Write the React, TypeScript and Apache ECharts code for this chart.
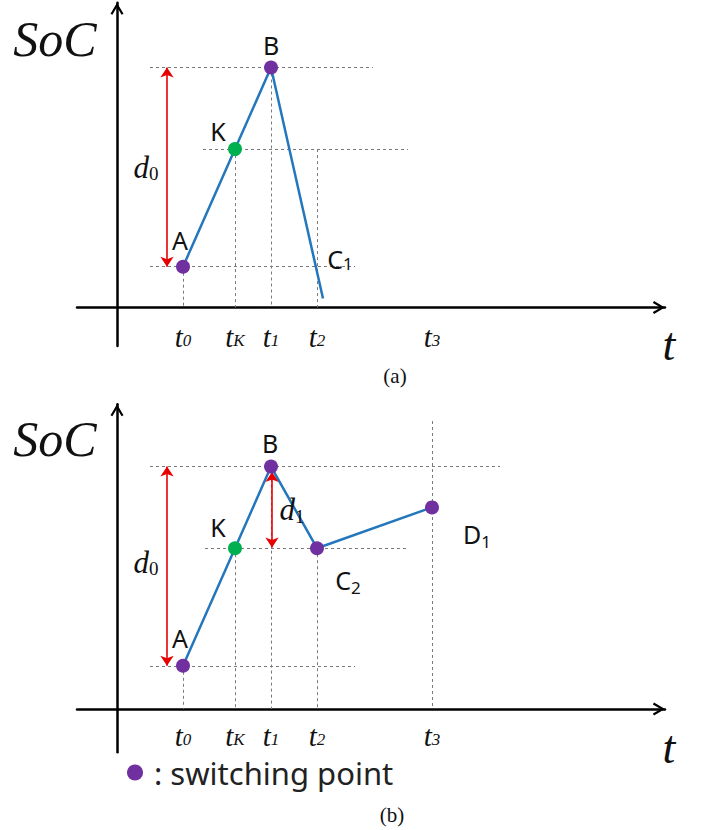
import React, { useEffect, useRef } from 'react';
import * as echarts from 'echarts';

// ---- data ----
// time ticks (t0, tK, t1, t2, t3)
const tickSubs = ['0', 'K', '1', '2', '3'];
const tickTimes = [3.3, 5.9, 7.7, 10.0, 15.75];

// panel (a)
const namesA = ['A', 'K', 'B'];
const timesA = [3.3, 5.9, 7.7];
const socA = [17, 66, 100];
const endA = [10.3, 3.75]; // C1 end of discharge line

// panel (b)
const namesB = ['A', 'K', 'B', 'C2', 'D1'];
const timesB = [3.3, 5.9, 7.7, 10.0, 15.75];
const socB = [18, 67, 101, 67, 84];

// dashed guide segments [x1, y1, x2, y2]
const guidesA = [
  [1.65, 100, 12.8, 100],
  [4.3, 66, 14.55, 66],
  [1.65, 17, 11.9, 17],
  [3.3, 17, 3.3, 0],
  [5.9, 66, 5.9, 0],
  [7.7, 100, 7.7, 0],
  [10.0, 66, 10.0, 0],
];
const guidesB = [
  [1.65, 101, 19.15, 101],
  [4.4, 67, 14.55, 67],
  [1.65, 18, 11.9, 18],
  [3.3, 18, 3.3, 0],
  [5.9, 67, 5.9, 0],
  [7.7, 101, 7.7, 0],
  [10.0, 67, 10.0, 0],
  [15.75, 120, 15.75, 0],
];

// red double arrows [x1, y1, x2, y2]
const arrowsA = [[2.5, 17, 2.5, 100]];
const arrowsB = [
  [2.5, 18, 2.5, 101],
  [7.75, 98.8, 7.75, 67.3],
];
const arrowNamesA = ['0'];
const arrowNamesB = ['0', '1'];

const PURPLE = '#7030A0';
const GREEN = '#00B050';
const BLUE = '#2477BC';
const RED = '#E60000';
const GRAY = '#7a7a7a';

const CHEVRON =
  'path://M6.5,0L6.51,0L6.5,0.01Z M6.5,12.12L13,23.12L11.11,24.24L6.5,16.44L1.89,24.24L0,23.12Z';

const pointLabelOffsetsA: Record<string, number[]> = {
  A: [-3, -27],
  K: [-17, -18],
  B: [0, -23],
};
const pointLabelOffsetsB: Record<string, number[]> = {
  A: [-3, -28],
  K: [-17, -21],
  B: [-1, -24],
  C2: [31, 32],
  D1: [45, 27],
};

function labelText(n: string) {
  if (n.length === 2) return `{m|${n[0]}}{s|${n[1]}}`;
  return `{m|${n}}`;
}

const pointRich = {
  m: { fontFamily: 'Noto Sans', fontSize: 25, lineHeight: 32, color: '#111' },
  m2: { fontFamily: 'Noto Sans', fontSize: 25, lineHeight: 26, color: '#111' },
  s: { fontFamily: 'Noto Sans', fontSize: 17, lineHeight: 17, verticalAlign: 'bottom', color: '#111' },
};

const dRich = {
  d: { fontFamily: 'Liberation Serif', fontStyle: 'italic', fontSize: 31, lineHeight: 32, color: '#111' },
  s: { fontFamily: 'Liberation Serif', fontSize: 19, lineHeight: 19, verticalAlign: 'bottom', color: '#111' },
};

const tickRich = {
  t: { fontFamily: 'Liberation Serif', fontStyle: 'italic', fontSize: 29, lineHeight: 24, color: '#111' },
  s: { fontFamily: 'Liberation Serif', fontStyle: 'italic', fontSize: 17, lineHeight: 10, verticalAlign: 'bottom', color: '#111' },
};

function buildPanel(i: number, names: string[], times: number[], soc: number[], offsets: Record<string, number[]>, guides: number[][], arrows: number[][], arrowNames: string[], extra: any[]) {
  const curve = times.map((t, k) => [t, soc[k]]);
  const series: any[] = [];
  series.push({
    type: 'lines',
    coordinateSystem: 'cartesian2d',
    xAxisIndex: i,
    yAxisIndex: i,
    silent: true,
    z: 1,
    lineStyle: { color: GRAY, width: 1, type: [3, 3], opacity: 1 },
    data: guides.map((g) => ({ coords: [[g[0], g[1]], [g[2], g[3]]] })),
  });
  series.push({
    type: 'line',
    xAxisIndex: i,
    yAxisIndex: i,
    silent: true,
    z: 2,
    showSymbol: false,
    symbol: 'none',
    lineStyle: { color: BLUE, width: 2.5 },
    data: curve.concat(extra),
  });
  series.push({
    type: 'lines',
    coordinateSystem: 'cartesian2d',
    xAxisIndex: i,
    yAxisIndex: i,
    silent: true,
    z: 3,
    symbol: ['arrow', 'arrow'],
    symbolSize: 10,
    lineStyle: { color: RED, width: 1.6, opacity: 1 },
    data: arrows.map((a) => ({ coords: [[a[0], a[1]], [a[2], a[3]]] })),
  });
  series.push({
    type: 'scatter',
    name: 'switching point',
    xAxisIndex: i,
    yAxisIndex: i,
    z: 4,
    symbol: 'circle',
    symbolSize: 14,
    itemStyle: { color: PURPLE, opacity: 1 },
    label: { show: true, position: 'inside', color: '#111', rich: pointRich },
    data: names.map((n, k) => ({
      value: [times[k], soc[k]],
      name: n,
      itemStyle: { color: n === 'K' ? GREEN : PURPLE },
      label: { offset: offsets[n], formatter: labelText(n) },
    })),
  });
  // d labels attached to arrows
  const textItems: any[] = arrows.map((a, k) => ({
    value: [(a[0] + a[2]) / 2, (a[1] + a[3]) / 2],
    label: {
      offset: arrowNames[k] === '0' ? (i === 0 ? [-21, 0] : [-21, -4]) : [20, 0],
      formatter: `{d|d}{s|${arrowNames[k]}}`,
      rich: dRich,
    },
  }));
  if (extra.length) {
    textItems.push({
      value: extra[0],
      label: {
        offset: [17, -40],
        formatter: '{m2|C}{s|1}',
        rich: pointRich,
      },
    });
  }
  series.push({
    type: 'scatter',
    name: 'labels',
    xAxisIndex: i,
    yAxisIndex: i,
    z: 5,
    silent: true,
    symbol: 'circle',
    symbolSize: 1,
    itemStyle: { color: 'rgba(0,0,0,0)' },
    label: { show: true, position: 'inside', color: '#111', opacity: 1 },
    data: textItems,
  });
  return series;
}

function tickFormatter(v: number) {
  const k = tickTimes.findIndex((t) => Math.abs(t - v) < 1e-6);
  if (k < 0) return '';
  return `{t|t}{s|${tickSubs[k]}}`;
}

export default function App() {
  const ref = useRef<HTMLDivElement>(null);
  useEffect(() => {
    if (!ref.current) return;
    const chart = echarts.init(ref.current, undefined, { renderer: 'svg' });
    const axisLine = {
      show: true,
      onZero: true,
      symbol: ['none', CHEVRON],
      symbolSize: [13, 24.24],
      lineStyle: { color: '#000', width: 2.5 },
    };
    const mkX = (gridIndex: number, margin: number) => ({
      type: 'value',
      gridIndex,
      min: -2,
      max: 27.4,
      axisLine,
      axisTick: { show: false },
      splitLine: { show: false },
      axisLabel: {
        show: true,
        customValues: tickTimes,
        margin,
        formatter: tickFormatter,
        rich: tickRich,
      },
    });
    const yAxisBase = {
      type: 'value',
      max: 127,
      axisLine,
      axisTick: { show: false },
      splitLine: { show: false },
      axisLabel: { show: false },
    };
    const titleFont = { fontFamily: 'Liberation Serif', fontStyle: 'italic', fill: '#111' };
    const option: any = {
      animation: false,
      backgroundColor: '#fff',
      grid: [
        { left: 77, width: 588, top: 2.7, height: 343.2 },
        { left: 77, width: 588, top: 404.2, height: 348 },
      ],
      xAxis: [mkX(0, -21), mkX(1, -28)],
      yAxis: [
        { ...yAxisBase, gridIndex: 0, min: -16 },
        { ...yAxisBase, gridIndex: 1, min: -18 },
      ],
      legend: {
        data: ['switching point'],
        left: 127,
        top: 757,
        padding: 0,
        icon: 'circle',
        itemWidth: 16,
        itemHeight: 16,
        selectedMode: false,
        formatter: '{g| }{x|: {name}}',
        textStyle: {
          rich: {
            g: { width: 6 },
            x: { fontFamily: 'Noto Sans', fontSize: 31, lineHeight: 28, color: '#222' },
          },
        },
      },
      graphic: [
        { type: 'text', x: 55, y: 39, style: { ...titleFont, text: 'SoC', fontSize: 50, align: 'center', verticalAlign: 'middle' } },
        { type: 'text', x: 55, y: 439, style: { ...titleFont, text: 'SoC', fontSize: 50, align: 'center', verticalAlign: 'middle' } },
        { type: 'text', x: 669, y: 344, style: { ...titleFont, text: 't', fontSize: 46, align: 'center', verticalAlign: 'middle' } },
        { type: 'text', x: 669, y: 747, style: { ...titleFont, text: 't', fontSize: 46, align: 'center', verticalAlign: 'middle' } },
        { type: 'text', x: 395, y: 376, style: { fontFamily: 'Liberation Serif', fill: '#111', text: '(a)', fontSize: 21, align: 'center', verticalAlign: 'middle' } },
        { type: 'text', x: 392, y: 815, style: { fontFamily: 'Liberation Serif', fill: '#111', text: '(b)', fontSize: 21, align: 'center', verticalAlign: 'middle' } },
      ],
      series: [
        ...buildPanel(0, namesA, timesA, socA, pointLabelOffsetsA, guidesA, arrowsA, arrowNamesA, [endA]),
        ...buildPanel(1, namesB, timesB, socB, pointLabelOffsetsB, guidesB, arrowsB, arrowNamesB, []),
      ],
    };
    chart.setOption(option);
    return () => chart.dispose();
  }, []);
  return (
    <div
      ref={ref}
      style={{ position: 'fixed', left: 0, top: 0, width: 706, height: 830, background: '#fff' }}
    />
  );
}
